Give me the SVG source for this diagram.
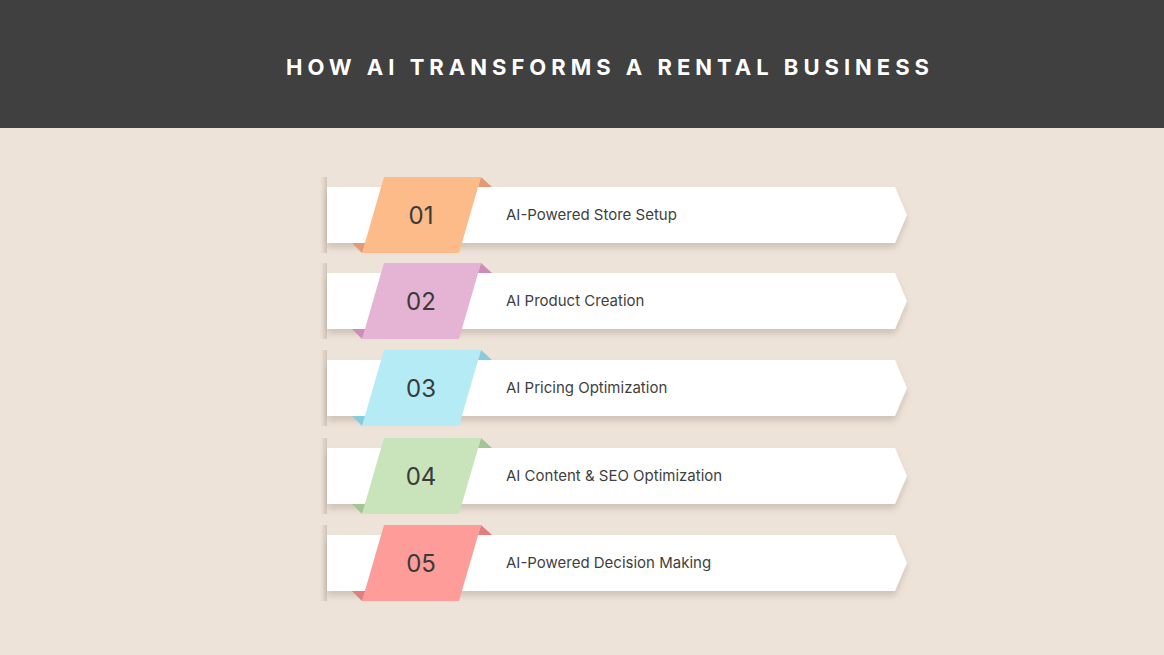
<svg xmlns="http://www.w3.org/2000/svg" width="1164" height="655" viewBox="0 0 1164 655">
<defs>
<filter id="sh" x="-5%" y="-30%" width="110%" height="170%"><feDropShadow dx="0" dy="5" stdDeviation="3" flood-color="#8a7a6a" flood-opacity="0.3"/></filter>
<linearGradient id="ls" x1="0" x2="1"><stop offset="0" stop-color="#d8cdc2" stop-opacity="0"/><stop offset="1" stop-color="#cfc3b8"/></linearGradient>
<style>
.bar{fill:#fff;filter:url(#sh)}
.num{font-family:Inter,"Liberation Sans",sans-serif;font-size:24px;fill:#3a3a3a;text-anchor:middle}
.lbl{font-family:Inter,"Liberation Sans",sans-serif;font-size:15px;fill:#3f3f3f}
</style>
</defs>
<rect width="1164" height="655" fill="#EEE3D9"/>
<rect width="1164" height="128" fill="#404040"/>
<text x="610" y="75" text-anchor="middle" font-family="Inter,'Liberation Sans',sans-serif" font-weight="700" font-size="22" letter-spacing="5" fill="#fff">HOW AI TRANSFORMS A RENTAL BUSINESS</text>
<g id="node1" transform="translate(0,0)">
<rect x="320" y="177" width="7" height="76" fill="url(#ls)"/>
<path class="bar" d="M327 187H895L907 215L895 243H327Z"/>
<path d="M481 177L492 187H478Z" fill="#E39A78"/><path d="M352 243H366L362 253Z" fill="#E39A78"/>
<path d="M384 177H481L459 253H362Z" fill="#FDBB8A"/>
<text class="num" x="421" y="224">01</text><text class="lbl" x="506" y="220">AI-Powered Store Setup</text>
</g>
<g id="node2" transform="translate(0,86)">
<rect x="320" y="177" width="7" height="76" fill="url(#ls)"/>
<path class="bar" d="M327 187H895L907 215L895 243H327Z"/>
<path d="M481 177L492 187H478Z" fill="#CC8DB8"/><path d="M352 243H366L362 253Z" fill="#CC8DB8"/>
<path d="M384 177H481L459 253H362Z" fill="#E5B3D3"/>
<text class="num" x="421" y="224">02</text><text class="lbl" x="506" y="220">AI Product Creation</text>
</g>
<g id="node3" transform="translate(0,173)">
<rect x="320" y="177" width="7" height="76" fill="url(#ls)"/>
<path class="bar" d="M327 187H895L907 215L895 243H327Z"/>
<path d="M481 177L492 187H478Z" fill="#86CCDA"/><path d="M352 243H366L362 253Z" fill="#86CCDA"/>
<path d="M384 177H481L459 253H362Z" fill="#B5EBF5"/>
<text class="num" x="421" y="224">03</text><text class="lbl" x="506" y="220">AI Pricing Optimization</text>
</g>
<g id="node4" transform="translate(0,261)">
<rect x="320" y="177" width="7" height="76" fill="url(#ls)"/>
<path class="bar" d="M327 187H895L907 215L895 243H327Z"/>
<path d="M481 177L492 187H478Z" fill="#A5C494"/><path d="M352 243H366L362 253Z" fill="#A5C494"/>
<path d="M384 177H481L459 253H362Z" fill="#C9E3BB"/>
<text class="num" x="421" y="224">04</text><text class="lbl" x="506" y="220">AI Content &amp; SEO Optimization</text>
</g>
<g id="node5" transform="translate(0,348)">
<rect x="320" y="177" width="7" height="76" fill="url(#ls)"/>
<path class="bar" d="M327 187H895L907 215L895 243H327Z"/>
<path d="M481 177L492 187H478Z" fill="#E07F80"/><path d="M352 243H366L362 253Z" fill="#E07F80"/>
<path d="M384 177H481L459 253H362Z" fill="#FE9C9A"/>
<text class="num" x="421" y="224">05</text><text class="lbl" x="506" y="220">AI-Powered Decision Making</text>
</g>
<g id="connectors"/>
</svg>
